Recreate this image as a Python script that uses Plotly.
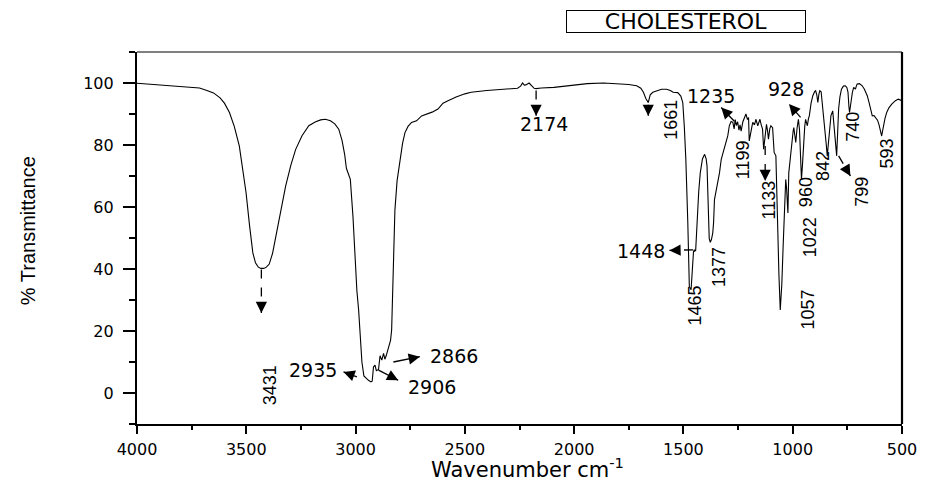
import math
import plotly.graph_objects as go

# FTIR spectrum of cholesterol: wavenumber (cm-1) and % transmittance
wavenumber = [
    4000, 3950, 3882, 3800, 3714, 3680, 3650, 3620, 3600, 3577, 3555, 3532, 3515, 3501,
    3485, 3470, 3458, 3445, 3433, 3420, 3408, 3395, 3380, 3365, 3345, 3320, 3296, 3274,
    3245, 3214, 3185, 3160, 3138, 3115, 3095, 3077, 3062, 3050, 3042, 3035, 3024, 3012,
    3002, 2994, 2986, 2979, 2971, 2962, 2950, 2941, 2930, 2924, 2918, 2911, 2905, 2895,
    2888, 2880, 2872, 2866, 2860, 2853, 2845, 2840, 2835, 2828, 2820, 2810, 2797, 2785,
    2774, 2760, 2744, 2721, 2698, 2676, 2650, 2623, 2600, 2577, 2540, 2500, 2471, 2400,
    2330, 2259, 2245, 2236, 2228, 2221, 2206, 2195, 2183, 2174, 2150, 2092, 2000, 1940,
    1865, 1800, 1750, 1714, 1695, 1683, 1672, 1661, 1652, 1640, 1623, 1600, 1577, 1560,
    1547, 1526, 1512, 1503, 1496, 1489, 1480, 1473, 1465, 1458, 1454, 1450, 1448, 1444,
    1438, 1430, 1423, 1413, 1403, 1396, 1392, 1387, 1382, 1377, 1372, 1366, 1362, 1358,
    1350, 1342, 1335, 1327, 1315, 1305, 1297, 1290, 1282, 1274, 1268, 1263, 1258, 1252,
    1246, 1241, 1236, 1228, 1220, 1214, 1207, 1202, 1199, 1190, 1183, 1175, 1168, 1160,
    1155, 1150, 1144, 1138, 1133, 1126, 1120, 1115, 1111, 1105, 1100, 1092, 1088, 1085,
    1077, 1070, 1063, 1057, 1050, 1044, 1040, 1036, 1032, 1028, 1022, 1018, 1010, 1003,
    998, 995, 990, 986, 980, 974, 969, 965, 960, 955, 950, 945, 941, 937,
    933, 928, 924, 916, 908, 900, 895, 890, 885, 880, 876, 870, 862, 853,
    847, 842, 837, 832, 825, 817, 811, 805, 799, 795, 790, 784, 777, 768,
    759, 752, 747, 743, 740, 736, 732, 727, 721, 716, 713, 709, 705, 695,
    682, 672, 665, 659, 650, 642, 636, 628, 620, 612, 605, 598, 593, 589,
    585, 578, 570, 560, 547, 530, 517, 508, 500,
]
transmittance = [
    99.9, 99.6, 99.3, 98.9, 98.4, 97.6, 96.8, 95.2, 93.5, 90.5, 86.0, 79.7, 72.0, 64.6,
    54.0, 45.2, 42.0, 40.6, 40.2, 40.2, 40.6, 41.6, 45.0, 50.5, 58.0, 66.7, 73.5, 78.6,
    83.0, 86.2, 87.4, 88.1, 88.3, 87.8, 86.8, 85.1, 81.5, 77.0, 72.5, 70.8, 68.9, 57.0,
    43.0, 33.0, 26.8, 18.0, 10.0, 5.5, 4.5, 4.1, 3.6, 3.8, 8.4, 9.0, 7.2, 7.6,
    12.0, 10.6, 12.8, 10.9, 12.0, 13.8, 15.5, 17.0, 20.3, 40.0, 59.0, 68.5, 75.4, 80.5,
    84.0, 86.0, 87.3, 87.8, 89.4, 90.0, 90.6, 91.6, 93.5, 94.3, 95.5, 96.5, 97.0, 97.6,
    98.0, 98.3, 99.0, 100.0, 99.3, 99.4, 100.0, 99.2, 98.3, 98.2, 98.4, 98.6, 99.3, 99.8,
    100.0, 99.8, 99.5, 99.1, 98.3, 97.0, 95.0, 93.7, 96.2, 97.0, 97.5, 98.0, 98.0, 97.6,
    97.0, 96.9, 95.8, 93.7, 86.0, 75.4, 55.0, 34.3, 33.3, 42.0, 45.5, 46.2, 45.8, 46.0,
    55.9, 65.0, 71.0, 75.5, 77.0, 75.5, 73.2, 58.0, 49.8, 48.6, 49.5, 51.5, 55.0, 62.4,
    65.5, 67.8, 71.0, 75.4, 78.5, 80.8, 83.0, 86.2, 87.6, 87.3, 85.2, 88.2, 86.3, 87.5,
    84.8, 86.5, 84.5, 87.5, 89.2, 90.0, 88.2, 88.9, 81.3, 85.5, 87.3, 86.5, 88.3, 86.2,
    87.5, 88.3, 86.5, 85.1, 78.6, 84.5, 86.7, 84.5, 81.9, 85.2, 86.2, 85.6, 80.0, 77.6,
    76.5, 53.8, 38.0, 26.8, 35.0, 47.0, 53.8, 62.0, 68.9, 66.0, 58.1, 71.0, 77.5, 80.8,
    84.5, 85.6, 83.0, 80.8, 85.5, 88.3, 85.0, 78.0, 68.9, 74.0, 80.8, 86.0, 88.3, 87.2,
    86.2, 88.5, 89.4, 93.5, 95.9, 97.2, 97.5, 96.2, 93.7, 96.5, 97.5, 97.2, 92.0, 86.2,
    80.5, 76.5, 81.0, 86.2, 89.5, 91.0, 86.5, 81.9, 76.5, 83.0, 91.6, 95.5, 98.0, 99.0,
    99.1, 98.5, 97.0, 92.5, 90.5, 92.5, 94.8, 97.0, 98.6, 98.3, 98.0, 99.0, 99.7, 99.8,
    99.1, 98.0, 97.0, 95.9, 93.5, 91.0, 89.4, 89.5, 88.7, 88.0, 86.5, 84.0, 82.9, 84.5,
    86.2, 88.5, 90.5, 92.0, 93.2, 94.3, 94.8, 94.6, 94.3,
]

# Peak labels (cm-1)
peak_labels = ["3431", "2935", "2906", "2866", "2174", "1661", "1465", "1448", "1377",
               "1235", "1199", "1133", "1057", "1022", "960", "928", "842", "799",
               "740", "593"]

# label placement: (text x, text y, angle)
label_pos = {
    "3431": (3391, 2.5, -90), "2935": (3195, 7.4, 0), "2906": (2650, 1.8, 0),
    "2866": (2550, 11.9, 0), "2174": (2136, 86.7, 0), "1661": (1555, 88.3, -90),
    "1465": (1445, 28.4, -90), "1448": (1695, 45.9, 0), "1377": (1336, 40.7, -90),
    "1235": (1373, 95.7, 0), "1199": (1227, 75.1, -90), "1133": (1109, 62.4, -90),
    "1057": (932, 26.8, -90), "1022": (923, 50.1, -90), "960": (936, 64.7, -90),
    "928": (1032, 98.1, 0), "842": (859, 73.1, -90), "799": (686, 65.0, -90),
    "740": (723, 86.0, -90), "593": (568, 77.3, -90),
}

# pointer arrows: label -> (start x, start y, end x, end y, dashed)
arrows = {
    "3431": (3431, 39.8, 3431, 25.8, True),
    "2174": (2174, 97.6, 2174, 89.4, True),
    "1661": (1661, 93.0, 1661, 89.4, False),
    "1235": (1266, 87.6, 1327, 92.1, True),
    "928": (964, 88.9, 1017, 93.2, True),
    "1133": (1126, 79.7, 1126, 68.4, True),
    "1448": (1456, 46.2, 1564, 46.0, True),
    "799": (790, 76.5, 736, 70.0, True),
    "2935": (2994, 5.2, 3055, 6.8, False),
    "2866": (2827, 10.0, 2706, 11.7, False),
    "2906": (2895, 7.4, 2805, 4.1, False),
}

X_RANGE = [4000, 500]
Y_RANGE = [-10, 110]
W, H = 929, 486
M = dict(l=137, r=22, t=52, b=62)
plot_w = W - M["l"] - M["r"]
plot_h = H - M["t"] - M["b"]
px_x = plot_w / abs(X_RANGE[1] - X_RANGE[0])
px_y = plot_h / abs(Y_RANGE[1] - Y_RANGE[0])

HFONT = "DejaVu Sans, Liberation Sans, Arial, sans-serif"
VFONT = "Liberation Sans, Arial, sans-serif"

fig = go.Figure()
fig.add_trace(go.Scatter(
    x=wavenumber, y=transmittance, mode="lines",
    line=dict(color="black", width=1.1), hoverinfo="x+y", showlegend=False,
))

annotations = []
shapes = []

for lab in peak_labels:
    tx, ty, ang = label_pos[lab]
    annotations.append(dict(
        x=tx, y=ty, xref="x", yref="y", text=lab, showarrow=False,
        textangle=ang, xanchor="center", yanchor="middle",
        font=dict(family=HFONT if ang == 0 else VFONT, size=19 if ang == 0 else 18,
                  color="black"),
    ))
    if lab in arrows:
        sx, sy, ex, ey, dashed = arrows[lab]
        # shaft
        shapes.append(dict(
            type="line", xref="x", yref="y", x0=sx, y0=sy, x1=ex, y1=ey,
            line=dict(color="black", width=1.3, dash="dash" if dashed else "solid"),
        ))
        # head, drawn in screen pixels along the shaft direction
        dx = -(ex - sx) * px_x
        dy = -(ey - sy) * px_y
        L = math.hypot(dx, dy)
        h = min(L, 8.0)
        annotations.append(dict(
            x=ex, y=ey, xref="x", yref="y", text="", showarrow=True,
            ax=-dx / L * h, ay=-dy / L * h,
            arrowhead=2, arrowsize=1.6, arrowwidth=1.4, arrowcolor="black",
            standoff=0, startstandoff=0,
        ))

# titles
annotations.append(dict(
    x=0.51, y=-0.118, xref="paper", yref="paper", showarrow=False,
    text="Wavenumber cm<sup>-1</sup>", xanchor="center", yanchor="middle",
    font=dict(family=HFONT, size=21, color="black"),
))
annotations.append(dict(
    x=-0.143, y=0.52, xref="paper", yref="paper", showarrow=False,
    text="% Transmittance", textangle=-90, xanchor="center", yanchor="middle",
    font=dict(family=VFONT, size=20, color="black"),
))
annotations.append(dict(
    x=0.718, y=1.083, xref="paper", yref="paper", showarrow=False,
    text="CHOLESTEROL", xanchor="center", yanchor="middle",
    width=236, height=19, bordercolor="black", borderwidth=1, borderpad=1,
    bgcolor="white", font=dict(family=HFONT, size=22, color="black"),
))

# frame: thin top edge, heavy right edge
shapes.append(dict(type="line", xref="paper", yref="paper", x0=0, x1=1, y0=1, y1=1,
                   line=dict(color="black", width=1)))
shapes.append(dict(type="line", xref="paper", yref="paper", x0=1, x1=1, y0=0, y1=1,
                   line=dict(color="black", width=2.2)))

tickfont = dict(family=HFONT, size=16, color="black")
fig.update_layout(
    width=W, height=H, margin=M,
    paper_bgcolor="white", plot_bgcolor="white",
    showlegend=False,
    annotations=annotations, shapes=shapes,
    xaxis=dict(
        range=X_RANGE, tick0=500, dtick=500, ticks="outside", ticklen=8, tickwidth=2,
        tickcolor="black", showline=True, linewidth=2.2, linecolor="black",
        showgrid=False, zeroline=False, tickfont=tickfont, ticklabelstandoff=2,
        minor=dict(dtick=250, tick0=0, ticks="outside", ticklen=4, tickwidth=2,
                   tickcolor="black", showgrid=False),
    ),
    yaxis=dict(
        range=Y_RANGE, tick0=0, dtick=20, ticks="outside", ticklen=12, tickwidth=2,
        tickcolor="black", showline=True, linewidth=2.2, linecolor="black",
        showgrid=False, zeroline=False, tickfont=tickfont, ticklabelstandoff=6,
        minor=dict(dtick=10, tick0=0, ticks="outside", ticklen=6, tickwidth=2,
                   tickcolor="black", showgrid=False),
    ),
)

fig.write_html("out.html")
